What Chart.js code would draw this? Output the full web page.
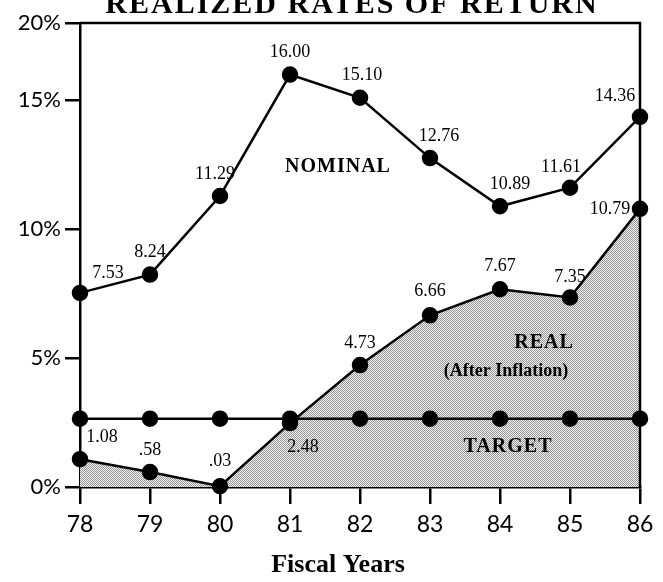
<!DOCTYPE html>
<html>
<head>
<meta charset="utf-8">
<script src="https://cdn.jsdelivr.net/npm/chart.js@4.4.1/dist/chart.umd.min.js"></script>
<style>
  html, body { margin: 0; padding: 0; background: #fff; }
  canvas { display: block; }
</style>
</head>
<body>
<canvas id="returnsChart" width="663" height="582"></canvas>
<script>
// fiscal years and the three series
const years = ["78", "79", "80", "81", "82", "83", "84", "85", "86"];
const nominalValues = [7.53, 8.24, 11.29, 16.0, 15.1, 12.76, 10.89, 11.61, 14.36];
const realValues = [1.08, 0.58, 0.03, 2.48, 4.73, 6.66, 7.67, 7.35, 10.79];
const targetValues = [2.65, 2.65, 2.65, 2.65, 2.65, 2.65, 2.65, 2.65, 2.65];

// printed labels next to the points
const nominalLabels = ["7.53", "8.24", "11.29", "16.00", "15.10", "12.76", "10.89", "11.61", "14.36"];
const realLabels = ["1.08", ".58", ".03", "2.48", "4.73", "6.66", "7.67", "7.35", "10.79"];

// y ticks (the top of the frame is labelled 20% in the original)
const yTickValues = [0, 5, 10, 15, 18];
const yTickLabels = ["0%", "5%", "10%", "15%", "20%"];

const serif = "'Liberation Serif', 'DejaVu Serif', serif";
const tickFont = "Lato, 'Open Sans', sans-serif";

// stipple pattern for the shaded "real" area
function makeStipple() {
  const c = document.createElement("canvas");
  c.width = 2;
  c.height = 2;
  const g = c.getContext("2d");
  g.fillStyle = "#f4f4f4";
  g.fillRect(0, 0, 2, 2);
  g.fillStyle = "#939393";
  g.fillRect(0, 0, 1, 1);
  g.fillRect(1, 1, 1, 1);
  return g.createPattern(c, "repeat");
}

// offsets of the value labels from their points
const labelOffsets = {
  0: [[28, -20], [0, -22], [-5, -22], [0, -22], [2, -22], [9, -22], [10, -22], [-9, -20], [-25, -21]],
  1: [[22, -22], [0, -22], [0, -25], [13, 24], [0, -22], [0, -24], [0, -23], [0, -20], [-30, 0]],
};

const decorPlugin = {
  id: "decor",
  beforeDatasetsDraw(chart) {
    const { ctx, chartArea: a } = chart;
    ctx.save();
    ctx.strokeStyle = "#000";
    ctx.lineWidth = 2.5;
    ctx.beginPath();
    ctx.moveTo(a.left, a.top);
    ctx.lineTo(a.right, a.top);
    ctx.lineTo(a.right, a.bottom);
    ctx.stroke();
    ctx.restore();
  },
  afterDraw(chart) {
    const { ctx } = chart;
    ctx.save();
    ctx.fillStyle = "#000";
    ctx.textAlign = "center";
    ctx.textBaseline = "middle";

    // value labels
    ctx.font = "18px " + serif;
    const sets = { 0: nominalLabels, 1: realLabels };
    Object.keys(sets).forEach((i) => {
      const meta = chart.getDatasetMeta(Number(i));
      meta.data.forEach((pt, j) => {
        const off = labelOffsets[i][j];
        ctx.fillText(sets[i][j], pt.x + off[0], pt.y + off[1]);
      });
    });

    // series names
    ctx.font = "bold 20px " + serif;
    ctx.letterSpacing = "1px";
    ctx.fillText("NOMINAL", 338, 167);
    ctx.fillText("REAL", 544, 343);
    ctx.fillText("TARGET", 508, 447);
    ctx.font = "bold 18px " + serif;
    ctx.letterSpacing = "0px";
    ctx.fillText("(After Inflation)", 506, 371);

    // axis title
    ctx.font = "bold 26px " + serif;
    ctx.fillText("Fiscal Years", 338, 565);

    // title, cut off by the top edge as in the original
    ctx.font = "bold 30px " + serif;
    ctx.letterSpacing = "2px";
    ctx.textBaseline = "alphabetic";
    ctx.fillText("REALIZED RATES OF RETURN", 352, 13);
    ctx.restore();
  },
};

const ctx = document.getElementById("returnsChart").getContext("2d");
const stipple = makeStipple();

new Chart(ctx, {
  type: "line",
  data: {
    labels: years,
    datasets: [
      {
        label: "Nominal",
        data: nominalValues,
        borderColor: "#000",
        backgroundColor: "#000",
        borderWidth: 2.5,
        pointRadius: 7,
        pointHoverRadius: 7,
        fill: false,
        clip: false,
      },
      {
        label: "Real (After Inflation)",
        data: realValues,
        borderColor: "#000",
        backgroundColor: stipple,
        pointBackgroundColor: "#000",
        borderWidth: 2.5,
        pointRadius: 7,
        pointHoverRadius: 7,
        fill: "origin",
        clip: false,
      },
      {
        label: "Target",
        data: targetValues,
        borderColor: "#000",
        backgroundColor: "#000",
        borderWidth: 2.5,
        pointRadius: 7,
        pointHoverRadius: 7,
        fill: false,
        clip: false,
      },
    ],
  },
  options: {
    responsive: false,
    animation: false,
    layout: { padding: { top: 23, right: 23, left: 0, bottom: 0 } },
    plugins: {
      legend: { display: false },
      tooltip: { enabled: false },
      filler: { drawTime: "beforeDatasetsDraw" },
    },
    scales: {
      x: {
        offset: false,
        grid: {
          offset: false,
          drawOnChartArea: false,
          drawTicks: true,
          tickLength: 17,
          color: "#000",
          lineWidth: 2.5,
        },
        border: { display: true, color: "#000", width: 2.5 },
        ticks: {
          color: "#000",
          padding: 7,
          maxRotation: 0,
          font: { family: tickFont, size: 23 },
        },
        afterFit(scale) {
          scale.height = 95;
        },
      },
      y: {
        min: 0,
        max: 18,
        afterBuildTicks(scale) {
          scale.ticks = yTickValues.map((v) => ({ value: v }));
        },
        grid: {
          drawOnChartArea: false,
          drawTicks: true,
          tickLength: 15,
          color: "#000",
          lineWidth: 2.5,
        },
        border: { display: true, color: "#000", width: 2.5 },
        ticks: {
          color: "#000",
          padding: 4,
          font: { family: tickFont, size: 22 },
          callback: (v) => yTickLabels[yTickValues.indexOf(v)],
        },
        afterFit(scale) {
          scale.width = 80;
        },
      },
    },
  },
  plugins: [decorPlugin],
});
</script>
</body>
</html>
